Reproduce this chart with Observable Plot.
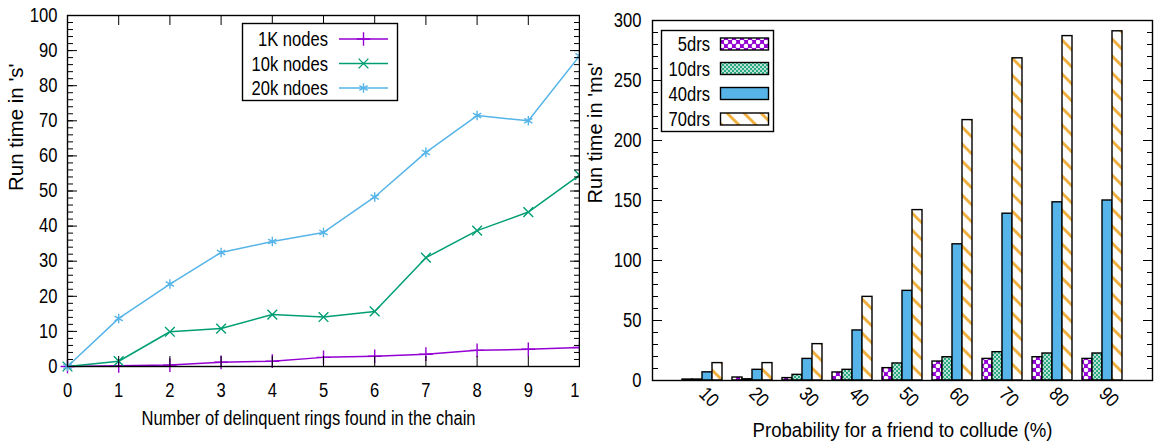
<!DOCTYPE html>
<html><head><meta charset="utf-8">
<script src="https://cdn.jsdelivr.net/npm/d3@7"></script>
<script src="https://cdn.jsdelivr.net/npm/@observablehq/plot@0.6"></script>
<style>
html,body{margin:0;padding:0;background:#fff;}
#wrap{position:relative;width:1156px;height:448px;overflow:hidden;}
#wrap svg{position:absolute;top:0;}
</style></head><body><div id="wrap"></div>
<script>
// ---------- Left chart data ----------
const rings = [0,1,2,3,4,5,6,7,8,9,10];
const nodes1k  = [0,0.2,0.4,1.2,1.5,2.6,2.9,3.5,4.6,4.9,5.4];
const nodes10k = [0,1.5,9.9,10.8,14.8,14.1,15.7,31,38.7,44,54.5];
const nodes20k = [0,13.7,23.5,32.5,35.6,38.2,48.3,61,71.5,70,88.5];
const lineSeries = ["1K nodes","10k nodes","20k ndoes"];
const lineColors = ["#9400d3","#009e73","#56b4e9"];
const lineSymbols = ["plus","times","asterisk"];

// ---------- Right chart data ----------
const probs = ["10","20","30","40","50","60","70","80","90"];
const drs5  = [0.8,2.5,2,6.7,10.3,15.8,18,19.4,18];
const drs10 = [0.8,1,4.7,8.9,14.2,19.4,23.6,22.5,22.5];
const drs40 = [6.8,8.9,18,41.7,74.7,113.5,139,148.5,150];
const drs70 = [14.5,14.5,30.3,69.7,142,217,268.5,287,291];
const barSeries = ["5drs","10drs","40drs","70drs"];

const FONT = "'Liberation Sans Narrow','Arial Narrow','Liberation Sans',sans-serif";
const FS = "19.5px";
const wrap = d3.select("#wrap");

// ===== Left chart =====
const lineData = [nodes1k,nodes10k,nodes20k].flatMap((arr,s)=>arr.map((v,i)=>({x:rings[i],y:v,s:lineSeries[s]})));
const leftMarks = [];
lineSeries.forEach((name,s)=>{
  const d = lineData.filter(r=>r.s===name);
  leftMarks.push(Plot.line(d,{x:"x",y:"y",stroke:lineColors[s],strokeWidth:1.5}));
  leftMarks.push(Plot.dot(d,{x:"x",y:"y",symbol:()=>lineSymbols[s],stroke:lineColors[s],fill:"none",r:4.5,strokeWidth:1.4}));
});
const left = Plot.plot({
  width:580,height:448,marginLeft:67,marginRight:1,marginTop:15,marginBottom:82,
  style:{fontFamily:FONT,fontSize:FS,color:"#000",background:"transparent"},
  x:{domain:[0,10]},
  y:{domain:[0,100]},
  symbol:{type:"identity"},
  marks:[
    ...leftMarks,
    Plot.axisY({anchor:"left",ticks:d3.range(0,101,10),tickSize:0,tickPadding:10,label:null}),
    Plot.axisY({anchor:"left",ticks:d3.range(0,101,10),tickSize:-10,fill:"none",label:null,tickFormat:()=>""}),
    Plot.axisY({anchor:"left",ticks:d3.range(0,101,2),tickSize:-6,fill:"none",label:null,tickFormat:()=>""}),
    Plot.axisY({anchor:"right",ticks:d3.range(0,101,10),tickSize:-10,fill:"none",label:null,tickFormat:()=>""}),
    Plot.axisY({anchor:"right",ticks:d3.range(0,101,2),tickSize:-6,fill:"none",label:null,tickFormat:()=>""}),
    Plot.axisX({anchor:"bottom",ticks:rings,tickSize:0,tickPadding:17,label:null}),
    Plot.axisX({anchor:"bottom",ticks:rings,tickSize:-10,fill:"none",label:null,tickFormat:()=>""}),
    Plot.axisX({anchor:"top",ticks:rings,tickSize:-9,fill:"none",label:null,tickFormat:()=>""}),
    Plot.frame({stroke:"#000",strokeWidth:1.4}),
    Plot.text(["Number of delinquent rings found in the chain"],{frameAnchor:"bottom",dy:52,dx:-15,lineAnchor:"middle",fill:"#000"}),
    Plot.text(["Run time in 's'"],{frameAnchor:"left",dx:-51,rotate:-90,lineAnchor:"middle",fill:"#000",fontSize:20.5,className:"sq100"})
  ]
});
d3.select(left).style("left","0px");
wrap.node().appendChild(left);

// legend (left)
{
  const g = d3.select(left).append("g").attr("font-family",FONT).attr("font-size",FS);
  g.append("rect").attr("x",242.5).attr("y",23.5).attr("width",155).attr("height",77).attr("fill","#fff").attr("stroke","#000").attr("stroke-width",1.4);
  const rowsY=[39,63.5,88];
  const sym = [d3.symbolPlus,d3.symbolTimes,d3.symbolAsterisk];
  lineSeries.forEach((name,s)=>{
    g.append("text").attr("transform",`translate(328,${rowsY[s]})`).attr("dy","0.36em").attr("text-anchor","end").attr("fill","#000").text(name);
    g.append("line").attr("x1",339).attr("x2",388).attr("y1",rowsY[s]).attr("y2",rowsY[s]).attr("stroke",lineColors[s]).attr("stroke-width",1.5);
    g.append("path").attr("transform",`translate(363.5,${rowsY[s]})`).attr("d",d3.symbol(sym[s],Math.PI*4.5*4.5)()).attr("fill","none").attr("stroke",lineColors[s]).attr("stroke-width",1.4);
  });
}

// ===== Right chart =====
const barArrays=[drs5,drs10,drs40,drs70];
const barData = barArrays.map((arr,s)=>arr.map((v,i)=>({x1:i-0.4+s*0.2,x2:i-0.4+(s+1)*0.2,y:v})));
const fills=["url(#pat5)","url(#pat10)","#56b4e9","url(#pat70)"];
const right = Plot.plot({
  width:576,height:448,marginLeft:72,marginRight:4,marginTop:20,marginBottom:68,
  style:{fontFamily:FONT,fontSize:FS,color:"#000",background:"transparent"},
  x:{domain:[-1,9]},
  y:{domain:[0,300]},
  marks:[
    ...barData.map((d,s)=>Plot.rectY(d,{x1:"x1",x2:"x2",y:"y",fill:fills[s],stroke:"#000",strokeWidth:1.4})),
    Plot.axisY({anchor:"left",ticks:d3.range(0,301,50),tickSize:0,tickPadding:11,label:null}),
    Plot.axisY({anchor:"left",ticks:d3.range(0,301,50),tickSize:-10,fill:"none",label:null,tickFormat:()=>""}),
    Plot.axisY({anchor:"left",ticks:d3.range(0,301,10),tickSize:-6,fill:"none",label:null,tickFormat:()=>""}),
    Plot.axisY({anchor:"right",ticks:d3.range(0,301,50),tickSize:-10,fill:"none",label:null,tickFormat:()=>""}),
    Plot.axisY({anchor:"right",ticks:d3.range(0,301,10),tickSize:-6,fill:"none",label:null,tickFormat:()=>""}),
    Plot.axisX({anchor:"bottom",ticks:d3.range(probs.length),tickFormat:i=>probs[i],tickRotate:45,tickSize:0,tickPadding:10,label:null}),
    Plot.frame({stroke:"#000",strokeWidth:1.4}),
    Plot.text(["Probability for a friend to collude (%)"],{frameAnchor:"bottom",dy:50,lineAnchor:"middle",fill:"#000",className:"sq95"}),
    Plot.text(["Run time in 'ms'"],{frameAnchor:"left",dx:-57,dy:3,rotate:-90,lineAnchor:"middle",fill:"#000",fontSize:20,className:"sq100"})
  ]
});
d3.select(right).style("left","580px");
wrap.node().appendChild(right);

// patterns
{
  const defs = d3.select(right).insert("defs",":first-child");
  const p5 = defs.append("pattern").attr("id","pat5").attr("patternUnits","userSpaceOnUse").attr("width",8).attr("height",8);
  p5.append("rect").attr("width",8).attr("height",8).attr("fill","#9400d3");
  p5.append("circle").attr("cx",2).attr("cy",2).attr("r",2.3).attr("fill","#fff");
  p5.append("circle").attr("cx",6).attr("cy",6).attr("r",2.3).attr("fill","#fff");
  const p10 = defs.append("pattern").attr("id","pat10").attr("patternUnits","userSpaceOnUse").attr("width",4).attr("height",4);
  p10.append("rect").attr("width",4).attr("height",4).attr("fill","#2aa982");
  p10.append("circle").attr("cx",1).attr("cy",1).attr("r",0.9).attr("fill","#fff");
  p10.append("circle").attr("cx",3).attr("cy",3).attr("r",0.9).attr("fill","#fff");
  const p70 = defs.append("pattern").attr("id","pat70").attr("patternUnits","userSpaceOnUse").attr("width",17).attr("height",17);
  p70.append("rect").attr("width",17).attr("height",17).attr("fill","#fff");
  p70.append("path").attr("d","M-4,-4L21,21M-4,13L4,21M13,-4L21,4").attr("stroke","#efb040").attr("stroke-width",3);
}
// legend (right)
{
  const g = d3.select(right).append("g").attr("font-family",FONT).attr("font-size",FS);
  g.append("rect").attr("x",81.5).attr("y",30.5).attr("width",112).attr("height",101).attr("fill","#fff").attr("stroke","#000").attr("stroke-width",1.4);
  const rowsY=[44,68.5,93.5,119];
  barSeries.forEach((name,s)=>{
    g.append("text").attr("transform",`translate(130,${rowsY[s]})`).attr("dy","0.36em").attr("text-anchor","end").attr("fill","#000").text(name);
    g.append("rect").attr("x",140.5).attr("y",rowsY[s]-6).attr("width",48).attr("height",12).attr("fill",fills[s]).attr("stroke","#000").attr("stroke-width",1.4);
  });
}

// condense text along its direction to mimic the narrow font of the reference
wrap.selectAll("text").each(function(){
  let f = 0.85;
  if (this.closest(".sq100")) f = 1;
  else if (this.closest(".sq95")) f = 0.955;
  const t = this.getAttribute("transform") || "";
  this.setAttribute("transform", (t + ` scale(${f},1)`).trim());
});
</script></body></html>
